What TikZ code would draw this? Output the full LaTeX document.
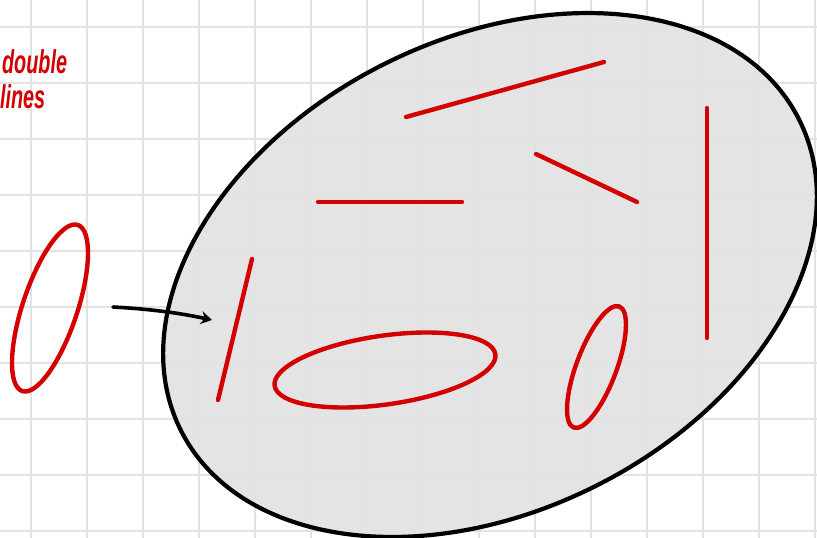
\documentclass[tikz,border=0pt]{standalone}
\usepackage{fontspec}
\setmainfont{Liberation Sans}
\usetikzlibrary{arrows.meta}
\definecolor{inkred}{HTML}{D40000}
\definecolor{gridc}{HTML}{E2E2E2}
\tikzset{
  gridline/.style={draw=gridc, line width=2.2pt},
  redink/.style={draw=inkred, line width=4.4pt, line cap=round, line join=round},
  blackink/.style={draw=black, line width=4.2pt, line cap=round},
  note/.style={text=inkred, font=\bfseries\itshape\fontsize{33}{33}\selectfont, inner sep=0pt, anchor=base west, xscale=0.6}
}
\begin{document}
\begin{tikzpicture}[x=1pt,y=-1pt]
\useasboundingbox (0,0) rectangle (817,538);
\fill[white] (0,0) rectangle (817,538);
% big translucent ellipse
\fill[black, fill opacity=0.105, rotate around={26.7:(490,275)}] (490,275) ellipse [x radius=346, y radius=236];
% grid
\foreach \gx in {31,87,...,815} {\draw[gridline] (\gx,0) -- (\gx,538);}
\foreach \gy in {27,83,...,531} {\draw[gridline] (0,\gy) -- (817,\gy);}
% outline of big ellipse
\draw[blackink, rotate around={26.7:(490,275)}] (490,275) ellipse [x radius=346, y radius=236];
% text
\node[note] (t1) at (2,73) {double};
\node[note] (t2) at (0,108) {lines};
% left ellipse
\draw[redink, rotate around={71.5:(50,308)}] (50,308) ellipse [x radius=87.6, y radius=27.3];
% arrow
\coordinate (as) at (113,307);
\coordinate (ae) at (212,320);
\draw[blackink, line width=3.6pt, -{Stealth[length=11pt,width=13pt]}] (as) .. controls (150,309) and (180,313) .. (ae);
% red strokes in ellipse
\coordinate (l1a) at (406,117); \coordinate (l1b) at (604,62);
\draw[redink] (l1a) -- (l1b);
\coordinate (l2a) at (536,154); \coordinate (l2b) at (637,202);
\draw[redink] (l2a) -- (l2b);
\coordinate (l3a) at (318,202); \coordinate (l3b) at (462,202);
\draw[redink] (l3a) -- (l3b);
\coordinate (l4a) at (707,108); \coordinate (l4b) at (707,338);
\draw[redink] (l4a) -- (l4b);
\coordinate (l5a) at (252,259); \coordinate (l5b) at (218,400);
\draw[redink] (l5a) -- (l5b);
% ellipses inside
\draw[redink, rotate around={8.1:(385,370)}] (385,370) ellipse [x radius=111.5, y radius=34.4];
\draw[redink, rotate around={69.4:(596.5,367)}] (596.5,367) ellipse [x radius=64.7, y radius=20];
\end{tikzpicture}
\end{document}
